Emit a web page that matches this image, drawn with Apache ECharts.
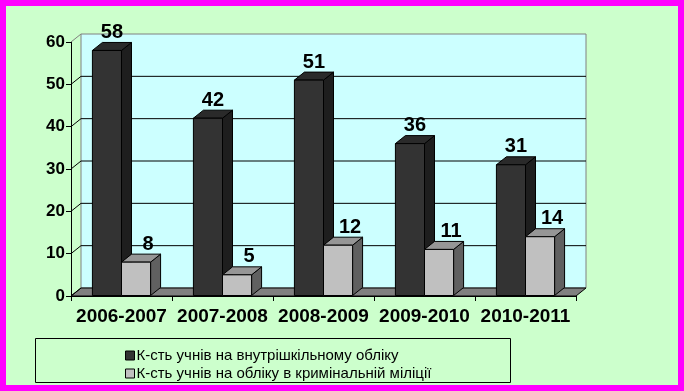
<!DOCTYPE html>
<html>
<head>
<meta charset="utf-8">
<script src="https://cdn.jsdelivr.net/npm/echarts@6/dist/echarts.min.js"></script>
<style>
html,body{margin:0;padding:0;background:#ccffcc;}
#c{width:684px;height:391px;}
</style>
</head>
<body>
<div id="c"></div>
<script>
const categories = ['2006-2007', '2007-2008', '2008-2009', '2009-2010', '2010-2011'];
const internalValues = [58, 42, 51, 36, 31];
const policeValues = [8, 5, 12, 11, 14];
const seriesNames = ['К-сть учнів на внутрішкільному обліку', 'К-сть учнів на обліку в кримінальній міліції'];
const yMin = 0, yMax = 60, yStep = 10;

const DX = 10, DY = -8;

function wallRender(params, api) {
  const cs = params.coordSys;
  const x = cs.x, y = cs.y, w = cs.width, h = cs.height;
  const children = [];
  children.push({type: 'rect', shape: {x: x + DX, y: y + DY, width: w, height: h},
    style: {fill: '#ccffff', stroke: '#808080', lineWidth: 1}});
  children.push({type: 'polygon', shape: {points: [[x, y + h], [x + w, y + h], [x + w + DX, y + h + DY], [x + DX, y + h + DY]]},
    style: {fill: '#808080', stroke: '#000', lineWidth: 1}});
  for (let v = yMin; v <= yMax; v += yStep) {
    const yy = api.coord([0, v])[1];
    if (v > yMin && v < yMax) {
      children.push({type: 'line', shape: {x1: x + DX, y1: yy + DY, x2: x + w + DX, y2: yy + DY},
        style: {stroke: '#000', lineWidth: 1}});
    }
    children.push({type: 'line', shape: {x1: x, y1: yy, x2: x + DX, y2: yy + DY},
      style: {stroke: v === yMax ? '#808080' : '#000', lineWidth: 1}});
  }
  return {type: 'group', children: children};
}

function barRender(side, front, topC, sideC, labelOff) {
  return function (params, api) {
    const i = api.value(0), v = api.value(1);
    const base = api.coord([i, 0]);
    const top = api.coord([i, v]);
    const band = api.size([1, 0])[0];
    const bw = band * 0.288;
    const cx = base[0];
    const x0 = side === 0 ? cx - bw : cx;
    const x1 = x0 + bw;
    const yb = base[1] - 0.5, yt = top[1];
    return {type: 'group', children: [
      {type: 'polygon', shape: {points: [[x1, yt], [x1 + DX, yt + DY], [x1 + DX, yb + DY], [x1, yb]]},
        style: {fill: sideC, stroke: '#000', lineWidth: 1}},
      {type: 'polygon', shape: {points: [[x0, yt], [x0 + DX, yt + DY], [x1 + DX, yt + DY], [x1, yt]]},
        style: {fill: topC, stroke: '#000', lineWidth: 1}},
      {type: 'rect', shape: {x: x0, y: yt, width: bw, height: yb - yt},
        style: {fill: front, stroke: '#000', lineWidth: 1}},
      {type: 'text', x: (x0 + x1) / 2 + labelOff, y: yt - 8,
        style: {text: String(v), fill: '#000', font: 'bold 20px Arial, "Liberation Sans", sans-serif',
          align: 'center', verticalAlign: 'bottom'}}
    ]};
  };
}

const chart = echarts.init(document.getElementById('c'));
chart.setOption({
  backgroundColor: '#ccffcc',
  animation: false,
  grid: {left: 71, right: 108, top: 42, bottom: 95},
  xAxis: {
    type: 'category', data: categories,
    axisLine: {lineStyle: {color: '#000', width: 1}},
    axisTick: {show: true, length: 5, lineStyle: {color: '#000'}},
    axisLabel: {interval: 0, color: '#000', fontFamily: 'Arial, "Liberation Sans", sans-serif', fontWeight: 'bold', fontSize: 19, margin: 11},
    splitLine: {show: false}
  },
  yAxis: {
    type: 'value', min: yMin, max: yMax, interval: yStep,
    axisLine: {show: true, lineStyle: {color: '#000', width: 1}},
    axisTick: {show: true, length: 5, lineStyle: {color: '#000'}},
    axisLabel: {color: '#000', fontFamily: 'Arial, "Liberation Sans", sans-serif', fontWeight: 'bold', fontSize: 17, margin: 6},
    splitLine: {show: false}
  },
  legend: {
    orient: 'vertical', left: 120, top: 343, itemGap: 3,
    itemWidth: 9, itemHeight: 9, icon: 'rect',
    textStyle: {color: '#000', fontFamily: 'Arial, "Liberation Sans", sans-serif', fontSize: 15, padding: [0, 0, 0, -3]},
    data: [
      {name: seriesNames[0], itemStyle: {color: '#333333', borderColor: '#000', borderWidth: 1}},
      {name: seriesNames[1], itemStyle: {color: '#c0c0c0', borderColor: '#000', borderWidth: 1}}
    ]
  },
  graphic: [
    {type: 'rect', z: -1, shape: {x: 35.5, y: 338.5, width: 475, height: 44}, style: {fill: 'none', stroke: '#000', lineWidth: 1}},
    {type: 'rect', z: 100, shape: {x: 3, y: 3, width: 678, height: 385}, style: {fill: 'none', stroke: '#ff00ff', lineWidth: 6}}
  ],
  series: [
    {type: 'custom', name: 'wall', z: 1, silent: true, data: [[0, 0]], renderItem: wallRender},
    {type: 'custom', name: seriesNames[0], z: 3, itemStyle: {color: '#333333'},
      data: internalValues.map((v, i) => [i, v]),
      renderItem: barRender(0, '#333333', '#2a2a2a', '#1e1e1e', 5)},
    {type: 'custom', name: seriesNames[1], z: 4, itemStyle: {color: '#c0c0c0'},
      data: policeValues.map((v, i) => [i, v]),
      renderItem: barRender(1, '#c0c0c0', '#969696', '#606060', 12)}
  ]
});
</script>
</body>
</html>
